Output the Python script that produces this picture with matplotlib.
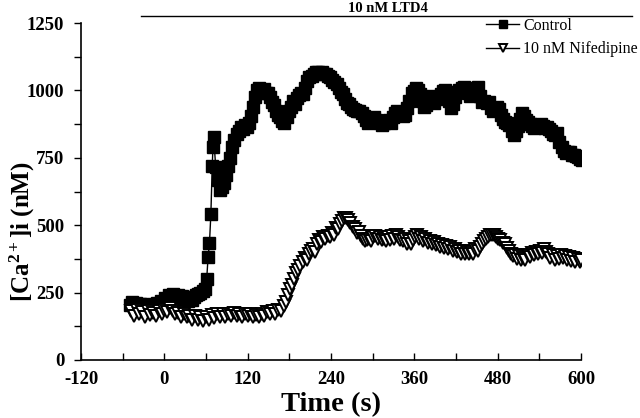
import matplotlib
matplotlib.use("Agg")
import matplotlib.pyplot as plt
from matplotlib.lines import Line2D
from matplotlib.ticker import MultipleLocator

plt.rcParams['font.family'] = ['Liberation Serif', 'DejaVu Serif']
plt.rcParams['mathtext.fontset'] = 'custom'
plt.rcParams['mathtext.rm'] = 'Liberation Serif:bold'
plt.rcParams['mathtext.it'] = 'Liberation Serif:bold'
plt.rcParams['mathtext.bf'] = 'Liberation Serif:bold'
plt.rcParams['axes.unicode_minus'] = False

# ---------------- data ----------------
ctrl_t = [-50, -47, -44, -41, -38, -35, -32, -29, -26, -23, -20, -17, -14, -11, -8, -5, -2, 1, 4, 7,
          10, 13, 16, 19, 22, 25, 28, 31, 34, 37, 40, 43, 46, 49, 52, 55, 58, 61, 63, 65,
          67, 69, 70, 71, 74, 77, 80, 83, 86, 89, 92, 95, 98, 101, 104, 107, 110, 113, 116, 119,
          122, 125, 128, 131, 134, 137, 140, 143, 146, 149, 152, 155, 158, 161, 164, 167, 170, 173, 176, 179,
          182, 185, 188, 191, 194, 197, 200, 203, 206, 209, 212, 215, 218, 221, 224, 227, 230, 233, 236, 239,
          242, 245, 248, 251, 254, 257, 260, 263, 266, 269, 272, 275, 278, 281, 284, 287, 290, 293, 296, 299,
          302, 305, 308, 311, 314, 317, 320, 323, 326, 329, 332, 335, 338, 341, 344, 347, 350, 353, 356, 359,
          362, 365, 368, 371, 374, 377, 380, 383, 386, 389, 392, 395, 398, 401, 404, 407, 410, 413, 416, 419,
          422, 425, 428, 431, 434, 437, 440, 443, 446, 449, 452, 455, 458, 461, 464, 467, 470, 473, 476, 479,
          482, 485, 488, 491, 494, 497, 500, 503, 506, 509, 512, 515, 518, 521, 524, 527, 530, 533, 536, 539,
          542, 545, 548, 551, 554, 557, 560, 563, 566, 569, 572, 575, 578, 581, 584, 587, 590, 593, 596, 599, 601]
ctrl_v = [205, 215, 200, 210, 198, 206, 196, 204, 198, 206, 195, 203, 200, 210, 206, 218, 215, 230, 226, 240,
          235, 244, 236, 242, 232, 238, 228, 232, 220, 226, 222, 232, 240, 245, 250, 256, 262, 300, 382, 434,
          540, 720, 790, 827, 716, 668, 630, 640, 655, 685, 720, 750, 790, 815, 840, 850, 865, 858, 872, 865,
          878, 905, 940, 975, 1000, 1010, 1000, 1005, 990, 992, 975, 958, 945, 925, 910, 900, 888, 880, 900, 925,
          940, 960, 950, 970, 982, 990, 985, 1010, 1035, 1048, 1055, 1062, 1068, 1070, 1065, 1068, 1062, 1060, 1055, 1048,
          1040, 1030, 1022, 1008, 995, 985, 968, 955, 948, 940, 932, 928, 925, 922, 915, 905, 892, 880, 885, 895,
          900, 892, 885, 878, 870, 878, 888, 892, 880, 900, 915, 925, 918, 912, 905, 910, 935, 960, 990, 998,
          1008, 1002, 985, 960, 938, 945, 968, 980, 965, 955, 968, 975, 988, 998, 1002, 985, 960, 935, 950, 975,
          995, 1000, 1008, 1012, 1005, 990, 978, 985, 1000, 1008, 1012, 980, 958, 962, 955, 958, 935, 925, 930, 938,
          930, 910, 895, 883, 878, 870, 850, 835, 848, 868, 895, 918, 905, 892, 882, 875, 868, 862, 866, 872,
          875, 868, 862, 865, 858, 848, 840, 835, 842, 810, 790, 775, 768, 772, 770, 762, 760, 755, 752, 745, 742]

nif_t = [-48, -44, -40, -36, -32, -28, -24, -20, -16, -12, -8, -4, 0, 4, 8, 12, 16, 20, 24, 28,
         32, 36, 40, 44, 48, 52, 56, 60, 64, 68, 72, 76, 80, 84, 88, 92, 96, 100, 104, 108,
         112, 116, 120, 124, 128, 132, 136, 140, 144, 148, 152, 156, 160, 164, 168, 172, 175, 178, 181, 184,
         187, 190, 193, 196, 199, 202, 205, 208, 211, 214, 217, 220, 223, 226, 229, 232, 235, 238, 241, 244,
         247, 250, 253, 256, 259, 262, 265, 268, 271, 274, 277, 280, 283, 286, 289, 292, 295, 298, 301, 304,
         307, 310, 313, 316, 319, 322, 325, 328, 331, 334, 337, 340, 343, 346, 349, 352, 355, 358, 361, 364,
         367, 370, 373, 376, 379, 382, 385, 388, 391, 394, 397, 400, 403, 406, 409, 412, 415, 418, 421, 424,
         427, 430, 433, 436, 439, 442, 445, 448, 451, 454, 457, 460, 463, 466, 469, 472, 475, 478, 481, 484,
         487, 490, 493, 496, 499, 502, 505, 508, 511, 514, 517, 520, 523, 526, 529, 532, 535, 538, 541, 544,
         547, 550, 553, 556, 559, 562, 565, 568, 571, 574, 577, 580, 583, 586, 589, 592, 595, 598, 600]
nif_v = [180, 165, 185, 170, 178, 160, 182, 168, 175, 162, 180, 170, 185, 178, 192, 180, 170, 176, 160, 170,
         158, 165, 150, 162, 148, 158, 145, 160, 150, 168, 155, 170, 158, 172, 160, 170, 162, 175, 165, 172,
         160, 170, 162, 172, 158, 168, 160, 172, 165, 178, 170, 180, 172, 185, 180, 200, 215, 240, 262, 280,
         300, 322, 335, 350, 362, 378, 372, 395, 405, 410, 400, 430, 445, 438, 455, 450, 460, 455, 470, 465,
         490, 485, 505, 515, 525, 527, 520, 510, 495, 485, 470, 475, 460, 450, 440, 445, 450, 440, 455, 460,
         450, 458, 445, 450, 440, 455, 445, 460, 450, 462, 455, 445, 440, 448, 432, 440, 430, 445, 455, 462,
         448, 455, 440, 448, 435, 440, 430, 438, 425, 430, 420, 428, 415, 422, 410, 418, 405, 412, 400, 405,
         395, 405, 395, 402, 392, 400, 395, 410, 405, 420, 430, 440, 450, 455, 462, 465, 462, 455, 450, 445,
         435, 430, 415, 405, 395, 385, 390, 375, 385, 370, 380, 372, 390, 382, 398, 390, 400, 392, 405, 398,
         410, 400, 395, 380, 390, 372, 385, 375, 390, 378, 385, 370, 382, 368, 378, 365, 375, 362, 370]

x_ticks = [-120, 0, 120, 240, 360, 480, 600]
y_ticks = [0, 250, 500, 750, 1000, 1250]

# ---------------- figure ----------------
fig = plt.figure(figsize=(6.4, 4.18), dpi=100)
ax = fig.add_axes([81/640, 1 - 360/418, 500/640, 337/418])

ax.plot(ctrl_t, ctrl_v, color='black', lw=1.0, marker='s', ms=8,
        mfc='black', mec='black', label='Control')
ax.plot(nif_t, nif_v, color='black', lw=1.0, marker='v', ms=8,
        mfc='white', mec='black', mew=1.4, label='10 nM Nifedipine')

ax.set_xlim(-120, 600)
ax.set_ylim(0, 1250)
ax.set_xticks(x_ticks)
ax.set_yticks(y_ticks)
ax.xaxis.set_minor_locator(MultipleLocator(60))
ax.yaxis.set_minor_locator(MultipleLocator(125))
ax.tick_params(axis='x', which='both', direction='in', length=5, width=1, pad=8)
ax.tick_params(axis='y', which='both', direction='out', length=5, width=1, pad=7)
for lab in ax.get_xticklabels() + ax.get_yticklabels():
    lab.set_fontweight('bold')
    lab.set_fontsize(13.5)

ax.spines['top'].set_visible(False)
ax.spines['right'].set_visible(False)
ax.spines['left'].set_linewidth(1.2)
ax.spines['bottom'].set_linewidth(1.2)

ax.set_xlabel('Time (s)', fontsize=20.5, fontweight='bold')
ax.xaxis.set_label_coords(0.5, -0.096)
ax.set_ylabel(r'[Ca$^{2+}$]i (nM)', fontsize=18, fontweight='bold')
ax.yaxis.set_label_coords(-0.088, 0.38)

leg = ax.legend(loc='upper right', bbox_to_anchor=(638/640, 1 - 18/418),
                bbox_transform=fig.transFigure, frameon=False, fontsize=11.5,
                handlelength=2.1, handletextpad=0.25, labelspacing=0.45,
                borderaxespad=0, borderpad=0, markerscale=0.8)

fig.add_artist(Line2D([141/640, 632/640], [1 - 16/418, 1 - 16/418],
                      color='black', lw=1.0))
fig.text(388/640, 1 - 8/418, '10 nM LTD4', ha='center', va='center',
         fontsize=10.5, fontweight='bold')

fig.savefig('out.png', dpi=100)
